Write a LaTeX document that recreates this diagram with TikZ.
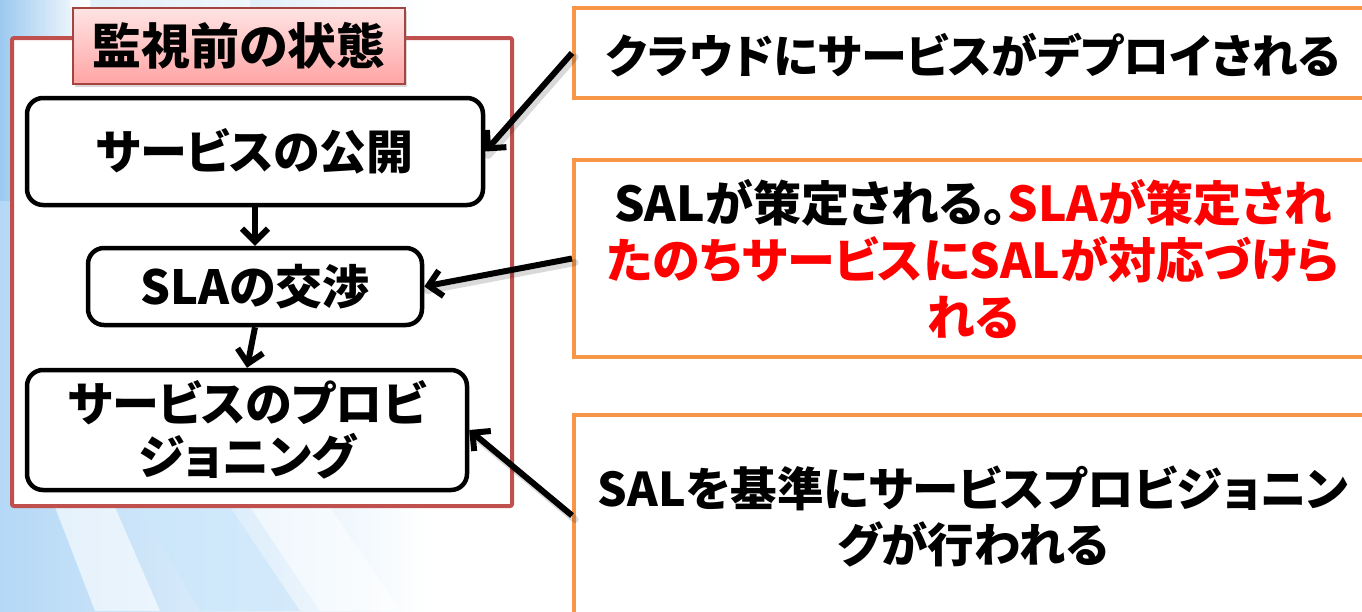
\documentclass[tikz,border=0pt]{standalone}
\usepackage{fontspec}
\newfontfamily\jp{Noto Sans CJK JP}[RawFeature=+palt]
\usetikzlibrary{arrows.meta,shadows}
\definecolor{frame}{HTML}{C0504D}
\definecolor{orng}{HTML}{F79646}
\definecolor{bgblue}{HTML}{B4D8F6}
\definecolor{bgdeep}{HTML}{9CC9F0}
\definecolor{bgpale}{HTML}{CCE7FB}
\definecolor{pinktop}{HTML}{FFE4E4}
\definecolor{pinkbot}{HTML}{FFA4A4}
\definecolor{redtext}{HTML}{FF0000}
\tikzset{
  blackbox/.style={draw=black, line width=4.5pt, rounded corners=16pt, fill=white, align=center,
    inner sep=0pt, font=\jp\bfseries\fontsize{47}{53}\selectfont},
  notebox/.style={draw=orng, line width=4pt, fill=white, inner sep=0pt},
  notetext/.style={align=center, inner sep=0pt},
  flow/.style={line width=6pt, -{Straight Barb[length=13pt,width=26pt]}},
  flowshadow/.style={line width=7pt, black, opacity=0.15, line cap=round},
}
\begin{document}
\begin{tikzpicture}[x=1pt,y=-1pt]
\useasboundingbox (0,0) rectangle (1362,611);
\clip (0,0) rectangle (1362,611);
% background
\fill[white] (0,0) rectangle (1362,611);
\shade[left color=bgblue, right color=white] (0,0) rectangle (430,611);
\shade[left color=bgdeep, right color=bgblue!0] (0,0) rectangle (90,200);
\fill[bgpale, opacity=0.7] (140,507) -- (230,507) -- (300,611) -- (200,611) -- cycle;
\fill[white, opacity=0.6] (55,507) -- (115,507) -- (160,611) -- (95,611) -- cycle;
\fill[white, opacity=0.5] (250,507) -- (330,507) -- (400,611) -- (320,611) -- cycle;
\fill[white, opacity=0.5] (70,0) -- (250,0) -- (250,8) -- (70,8) -- cycle;
% outer red frame
\node[draw=frame, line width=4pt, fill=white, rounded corners=2pt, minimum width=500pt, minimum height=468pt, inner sep=0pt] (frm) at (262,272) {};
% title
\node[draw=frame!85!black, line width=1.5pt, top color=pinktop, bottom color=pinkbot,
  minimum width=332pt, minimum height=76pt, inner sep=0pt,
  drop shadow={shadow xshift=2pt, shadow yshift=-3pt, opacity=0.3},
  font=\jp\bfseries\fontsize{49}{50}\selectfont] (ttl) at (239,46) {監視前の状態};
% left boxes
\node[blackbox, minimum width=456pt, minimum height=107pt] (b1) at (255,151.5) {サービスの公開};
\node[blackbox, minimum width=334pt, minimum height=77pt] (b2) at (255,286.5) {SLAの交渉};
\node[blackbox, minimum width=440pt, minimum height=120pt] (b3) at (247,430) {サービスのプロビ\\ジョニング};
% right boxes
\node[notebox, minimum width=810pt, minimum height=90pt, anchor=west] (r1) at (572,53) {};
\node[notetext, font=\jp\bfseries\fontsize{46}{57}\selectfont] (t1) at (973,55) {クラウドにサービスがデプロイされる};
\node[notebox, minimum width=810pt, minimum height=197pt, anchor=west] (r2) at (572,258.5) {};
\node[notetext, font=\jp\bfseries\fontsize{48}{57}\selectfont] (t2) at (973,259)
  {SALが策定される。\textcolor{redtext}{SLAが策定され}\\\textcolor{redtext}{たのちサービスにSALが対応づけら}\\\textcolor{redtext}{れる}};
\node[notebox, minimum width=810pt, minimum height=201pt, anchor=west] (r3) at (572,515.5) {};
\node[notetext, font=\jp\bfseries\fontsize{46.5}{56}\selectfont] (t3) at (973,517)
  {SALを基準にサービスプロビジョニン\\グが行われる};
% connectors
\draw[flowshadow] ([shift={(3pt,-4pt)}]r1.west) -- ([shift={(3pt,-4pt)}]b1.east);
\draw[flowshadow] ([shift={(3pt,-4pt)}]r2.west) -- ([shift={(3pt,-4pt)}]b2.east);
\draw[flowshadow] ([shift={(3pt,-4pt)}]r3.west) -- ([shift={(3pt,-4pt)}]b3.east);
\draw[flow] (b1.south) -- (b2.north);
\draw[flow] (b2.south) -- (b3.north);
\draw[flow] (r1.west) -- (b1.east);
\draw[flow] (r2.west) -- (b2.east);
\draw[flow] (r3.west) -- (b3.east);
\end{tikzpicture}
\end{document}
